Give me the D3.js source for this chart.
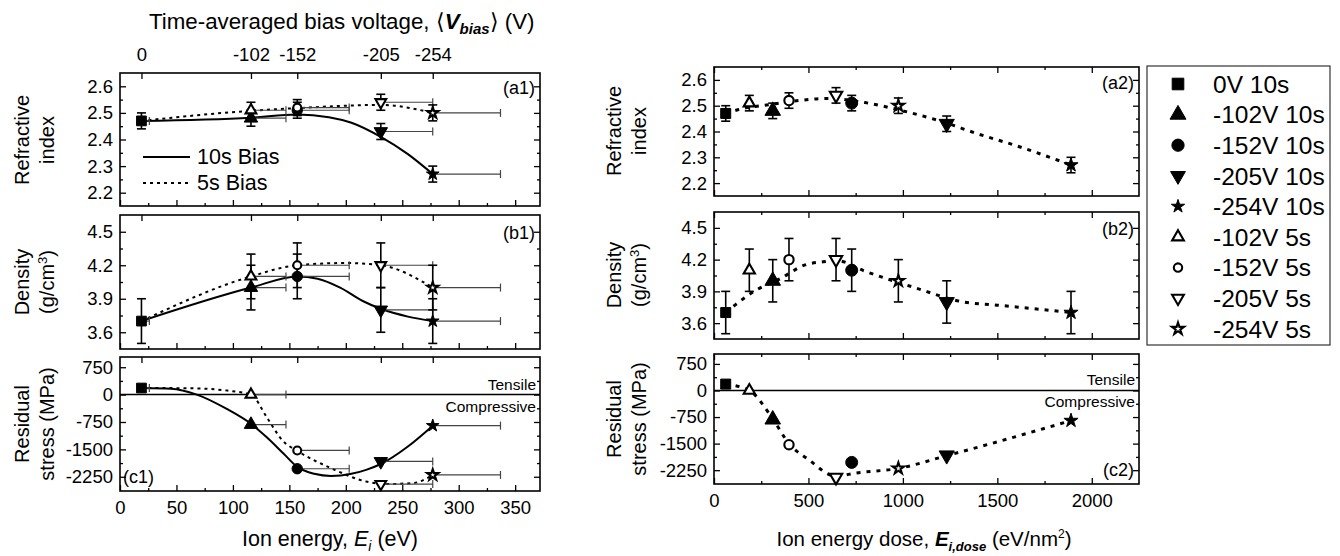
<!DOCTYPE html>
<html>
<head>
<meta charset="utf-8">
<script src="https://cdn.jsdelivr.net/npm/d3@7"></script>
<style>
  body { margin: 0; background: #fff; }
  svg { font-family: "Liberation Sans", Arial, sans-serif; }
</style>
</head>
<body>
<svg id="chart" width="1340" height="556"></svg>
<script>
// ---- data ----
const biasTickLabels = ['0', '-102', '-152', '-205', '-254'];
const ionEnergy10 = [19, 116, 157, 231, 277];
const ionEnergy5 = [116, 157, 231, 277];
const ionEnergyHi10 = [26, 147, 203, 277, 337];   // right end of horizontal error bar
const ionEnergyHi5 = [147, 203, 277, 337];
const dose10 = [62, 311, 729, 1232, 1890];
const dose5 = [187, 397, 646, 976];

const refIndex10 = [2.47, 2.48, 2.51, 2.43, 2.27];
const refIndex5 = [2.51, 2.52, 2.54, 2.50];
const refIndexErr10 = [0.03, 0.03, 0.03, 0.03, 0.03];
const refIndexErr5 = [0.03, 0.03, 0.03, 0.03];
const density10 = [3.7, 4.0, 4.1, 3.8, 3.7];
const density5 = [4.1, 4.2, 4.2, 4.0];
const densityErr10 = [0.2, 0.2, 0.2, 0.2, 0.2];
const densityErr5 = [0.2, 0.2, 0.2, 0.2];
const stress10 = [180, -820, -2030, -1830, -850];
const stress5 = [0, -1530, -2450, -2200];

const markers10 = ['square', 'triangle', 'circle', 'down', 'star'];
const markers5 = ['triangle', 'circle', 'down', 'star'];
const legendLabels = ['0V 10s', '-102V 10s', '-152V 10s', '-205V 10s', '-254V 10s',
                      '-102V 5s', '-152V 5s', '-205V 5s', '-254V 5s'];

// trend curves (left: vs ion energy, right: vs dose)
const refFit10E = [19, 116, 157, 185, 205, 231, 255, 277];
const refFit10V = [2.47, 2.482, 2.494, 2.484, 2.463, 2.41, 2.345, 2.27];
const refFit5E = [19, 116, 157, 231, 277];
const refFit5V = [2.47, 2.508, 2.518, 2.53, 2.50];
const densFit10E = [19, 116, 157, 175, 195, 215, 231, 255, 277];
const densFit10V = [3.70, 4.00, 4.10, 4.08, 4.00, 3.88, 3.81, 3.74, 3.70];
const densFit5E = [19, 116, 157, 200, 231, 277];
const densFit5V = [3.70, 4.10, 4.20, 4.22, 4.20, 4.00];
const stressFit10E = [19, 45, 68, 95, 116, 130, 145, 157, 172, 187, 205, 218, 231, 255, 277];
const stressFit10V = [180, 160, 0, -400, -800, -1170, -1620, -1980, -2170, -2230, -2170, -2060, -1900, -1420, -850];
const stressFit5E = [19, 60, 95, 116, 130, 144, 157, 188, 218, 235, 260, 277];
const stressFit5V = [180, 175, 110, 0, -620, -1260, -1540, -2030, -2380, -2450, -2420, -2200];

const refFitDoseE = [62, 130, 300, 450, 600, 800, 1000, 1200, 1400, 1600, 1890];
const refFitDoseV = [2.47, 2.485, 2.505, 2.52, 2.528, 2.512, 2.48, 2.44, 2.39, 2.345, 2.27];
const densFitDoseE = [62, 111, 221, 350, 482, 578, 650, 800, 1055, 1320, 1500, 1890];
const densFitDoseV = [3.70, 3.77, 3.91, 4.02, 4.15, 4.18, 4.19, 4.09, 3.94, 3.80, 3.77, 3.70];
const stressFitDoseE = [62, 187, 311, 397, 500, 646, 750, 976, 1232, 1500, 1890];
const stressFitDoseV = [180, 0, -800, -1500, -1950, -2420, -2330, -2200, -1840, -1450, -850];

// ticks
const energyTicks = [0, 50, 100, 150, 200, 250, 300, 350];
const energyMinor = [25, 75, 125, 175, 225, 275, 325];
const doseTicks = [0, 500, 1000, 1500, 2000];
const doseMinor = [250, 750, 1250, 1750];
const refTicks = [2.2, 2.3, 2.4, 2.5, 2.6];
const refMinor = [2.25, 2.35, 2.45, 2.55];
const densTicks = [3.6, 3.9, 4.2, 4.5];
const densMinor = [3.75, 4.05, 4.35];
const stressTicks = [-2250, -1500, -750, 0, 750];
const stressMinor = [-1875, -1125, -375, 375];

// ---- layout ----
const svg = d3.select('#chart');
const TICK_FONT = '18.5px';
const TITLE_FONT = '20px';

const xEnergy = d3.scaleLinear().domain([0, 372]).range([120, 540]);
const xDose = d3.scaleLinear().domain([0, 2250]).range([714, 1139]);

const rowsLeft = [[73, 206], [215, 349], [357, 491]];
const rowsRight = [[67, 196], [212, 339], [354, 484]];
const yDomains = [[2.15, 2.65], [3.45, 4.65], [-2640, 1030]];
const yTicks = [refTicks, densTicks, stressTicks];
const yMinor = [refMinor, densMinor, stressMinor];

// symbol areas for each place a marker is drawn
const markerSizes = {
    left:   { filled: { square: 95, triangle: 78, down: 78, circle: 85, star: 50 },
              open:   { triangle: 50, circle: 50, down: 50, star: 38 } },
    right:  { filled: { square: 100, triangle: 105, down: 100, circle: 113, star: 62 },
              open:   { triangle: 55, circle: 68, down: 66, star: 40 } },
    legend: { filled: { square: 135, triangle: 110, down: 95, circle: 118, star: 55 },
              open:   { triangle: 60, circle: 55, down: 60, star: 45 } }
};

function symbolPath(kind, size) {
    const type = { square: d3.symbolSquare, triangle: d3.symbolTriangle, down: d3.symbolTriangle,
                   circle: d3.symbolCircle, star: d3.symbolStar }[kind];
    return d3.symbol().type(type).size(size)();
}

function drawMarker(g, kind, open, cx, cy, where) {
    const size = markerSizes[where][open ? 'open' : 'filled'][kind];
    g.append('path')
        .attr('d', symbolPath(kind, size))
        .attr('transform', `translate(${cx},${cy})` + (kind === 'down' ? ' rotate(180)' : ''))
        .attr('fill', open ? '#fff' : '#000')
        .attr('stroke', '#000')
        .attr('stroke-linejoin', 'miter')
        .attr('stroke-width', open ? 2.1 : 1);
}

function styleAxis(sel) {
    sel.select('.domain').remove();
    sel.selectAll('line').attr('stroke', '#000').attr('stroke-width', 1.3);
    sel.selectAll('text').attr('fill', '#000').style('font-size', TICK_FONT);
}

function drawPanel(x, y, top, bottom, i, opts) {
    const g = svg.append('g');
    const [x0, x1] = x.range();

    // axes with inward ticks
    g.append('g').attr('transform', `translate(0,${bottom})`)
        .call(d3.axisBottom(x).tickValues(opts.xTicks).tickSize(-6).tickPadding(10)
            .tickFormat(opts.xLabels ? d3.format('d') : ''))
        .call(styleAxis);
    g.append('g').attr('transform', `translate(0,${bottom})`)
        .call(d3.axisBottom(x).tickValues(opts.xMinor).tickSize(-3).tickFormat(''))
        .call(styleAxis);
    g.append('g').attr('transform', `translate(0,${top})`)
        .call(d3.axisTop(x).tickValues(opts.topTicks).tickSize(-6).tickPadding(12)
            .tickFormat(opts.topLabels ? (d, k) => opts.topLabels[k] : ''))
        .call(styleAxis);
    if (opts.topMinor) {
        g.append('g').attr('transform', `translate(0,${top})`)
            .call(d3.axisTop(x).tickValues(opts.topMinor).tickSize(-3).tickFormat(''))
            .call(styleAxis);
    }
    g.append('g').attr('transform', `translate(${x0},0)`)
        .call(d3.axisLeft(y).tickValues(yTicks[i]).tickSize(-6).tickPadding(7).tickFormat(d => String(d)))
        .call(styleAxis);
    g.append('g').attr('transform', `translate(${x0},0)`)
        .call(d3.axisLeft(y).tickValues(yMinor[i]).tickSize(-3).tickFormat(''))
        .call(styleAxis);
    g.append('g').attr('transform', `translate(${x1},0)`)
        .call(d3.axisRight(y).tickValues(yTicks[i]).tickSize(-6).tickFormat(''))
        .call(styleAxis);
    g.append('g').attr('transform', `translate(${x1},0)`)
        .call(d3.axisRight(y).tickValues(yMinor[i]).tickSize(-3).tickFormat(''))
        .call(styleAxis);

    g.append('rect')
        .attr('x', x0).attr('y', top).attr('width', x1 - x0).attr('height', bottom - top)
        .attr('fill', 'none').attr('stroke', '#000').attr('stroke-width', 1.6);

    return g;
}

function drawCurve(g, x, y, xs, ys, dashed, width) {
    const line = d3.line().x(d => x(d[0])).y(d => y(d[1])).curve(d3.curveMonotoneX);
    g.append('path')
        .datum(xs.map((v, k) => [v, ys[k]]))
        .attr('d', line)
        .attr('fill', 'none')
        .attr('stroke', '#000')
        .attr('stroke-width', width)
        .attr('stroke-dasharray', dashed || null);
}

function drawHBars(g, x, y, xs, his, vals) {
    xs.forEach((v, k) => {
        const yy = y(vals[k]);
        g.append('line').attr('x1', x(v)).attr('x2', x(his[k])).attr('y1', yy).attr('y2', yy)
            .attr('stroke', '#444').attr('stroke-width', 1.2);
        g.append('line').attr('x1', x(his[k])).attr('x2', x(his[k])).attr('y1', yy - 4).attr('y2', yy + 4)
            .attr('stroke', '#444').attr('stroke-width', 1.2);
    });
}

function drawVBars(g, x, y, xs, vals, errs) {
    xs.forEach((v, k) => {
        const xx = x(v);
        const lo = y(vals[k] - errs[k]), hi = y(vals[k] + errs[k]);
        g.append('line').attr('x1', xx).attr('x2', xx).attr('y1', lo).attr('y2', hi)
            .attr('stroke', '#000').attr('stroke-width', 1.6);
        [lo, hi].forEach(yy => g.append('line').attr('x1', xx - 4.5).attr('x2', xx + 4.5)
            .attr('y1', yy).attr('y2', yy).attr('stroke', '#000').attr('stroke-width', 1.6));
    });
}

function drawMarkers(g, x, y, xs, vals, kinds, open, where) {
    xs.forEach((v, k) => drawMarker(g, kinds[k], open, x(v), y(vals[k]), where));
}

function yTitle(cx, cy, lines) {
    lines.forEach((ln, k) => {
        const t = svg.append('text')
            .attr('transform', `translate(${cx + k * 25},${cy}) rotate(-90)`)
            .attr('text-anchor', 'middle').attr('dy', '0.35em')
            .style('font-size', TITLE_FONT);
        ln.forEach(part => {
            const s = t.append('tspan').text(part.t);
            if (part.sup) s.attr('dy', -7).style('font-size', '13px');
            if (part.after) s.attr('dy', 7);
        });
    });
}

function panelLabel(x, yb, text, anchor) {
    svg.append('text').attr('x', x).attr('y', yb).attr('text-anchor', anchor)
        .style('font-size', '18px').text(text);
}

function stressLabels(x, y) {
    const [, x1] = x.range();
    const z = y(0);
    svg.append('text').attr('x', x1 - 4).attr('y', z - 5).attr('text-anchor', 'end')
        .style('font-size', '15.5px').text('Tensile');
    svg.append('text').attr('x', x1 - 4).attr('y', z + 17).attr('text-anchor', 'end')
        .style('font-size', '15.5px').text('Compressive');
}

// ---- left column: vs ion energy ----
const leftSeries = [
    { v10: refIndex10, v5: refIndex5, e10: refIndexErr10, e5: refIndexErr5,
      f10: [refFit10E, refFit10V], f5: [refFit5E, refFit5V] },
    { v10: density10, v5: density5, e10: densityErr10, e5: densityErr5,
      f10: [densFit10E, densFit10V], f5: [densFit5E, densFit5V] },
    { v10: stress10, v5: stress5, e10: null, e5: null,
      f10: [stressFit10E, stressFit10V], f5: [stressFit5E, stressFit5V] }
];

leftSeries.forEach((s, i) => {
    const [top, bottom] = rowsLeft[i];
    const y = d3.scaleLinear().domain(yDomains[i]).range([bottom, top]);
    const g = drawPanel(xEnergy, y, top, bottom, i, {
        xTicks: energyTicks, xMinor: energyMinor, xLabels: i === 2,
        topTicks: ionEnergy10, topLabels: i === 0 ? biasTickLabels : null
    });
    if (i === 2) {
        g.append('line').attr('x1', xEnergy.range()[0]).attr('x2', xEnergy.range()[1])
            .attr('y1', y(0)).attr('y2', y(0)).attr('stroke', '#000').attr('stroke-width', 1.5);
    }
    drawCurve(g, xEnergy, y, s.f5[0], s.f5[1], '3,4', 2);
    drawCurve(g, xEnergy, y, s.f10[0], s.f10[1], null, 2);
    drawHBars(g, xEnergy, y, ionEnergy10, ionEnergyHi10, s.v10);
    drawHBars(g, xEnergy, y, ionEnergy5, ionEnergyHi5, s.v5);
    if (s.e10) {
        drawVBars(g, xEnergy, y, ionEnergy10, s.v10, s.e10);
        drawVBars(g, xEnergy, y, ionEnergy5, s.v5, s.e5);
    }
    drawMarkers(g, xEnergy, y, ionEnergy10, s.v10, markers10, false, 'left');
    drawMarkers(g, xEnergy, y, ionEnergy5, s.v5, markers5, true, 'left');
    if (i === 2) stressLabels(xEnergy, y);
});

// ---- right column: vs ion energy dose ----
const rightSeries = [
    { v10: refIndex10, v5: refIndex5, e10: refIndexErr10, e5: refIndexErr5, f: [refFitDoseE, refFitDoseV] },
    { v10: density10, v5: density5, e10: densityErr10, e5: densityErr5, f: [densFitDoseE, densFitDoseV] },
    { v10: stress10, v5: stress5, e10: null, e5: null, f: [stressFitDoseE, stressFitDoseV] }
];

rightSeries.forEach((s, i) => {
    const [top, bottom] = rowsRight[i];
    const y = d3.scaleLinear().domain(yDomains[i]).range([bottom, top]);
    const g = drawPanel(xDose, y, top, bottom, i, {
        xTicks: doseTicks, xMinor: doseMinor, xLabels: i === 2,
        topTicks: doseTicks, topMinor: doseMinor, topLabels: null
    });
    if (i === 2) {
        g.append('line').attr('x1', xDose.range()[0]).attr('x2', xDose.range()[1])
            .attr('y1', y(0)).attr('y2', y(0)).attr('stroke', '#000').attr('stroke-width', 1.5);
    }
    drawCurve(g, xDose, y, s.f[0], s.f[1], '4,6', 3);
    if (s.e10) {
        drawVBars(g, xDose, y, dose10, s.v10, s.e10);
        drawVBars(g, xDose, y, dose5, s.v5, s.e5);
    }
    drawMarkers(g, xDose, y, dose10, s.v10, markers10, false, 'right');
    drawMarkers(g, xDose, y, dose5, s.v5, markers5, true, 'right');
    if (i === 2) stressLabels(xDose, y);
});

// ---- panel labels ----
panelLabel(535, 94, '(a1)', 'end');
panelLabel(535, 239, '(b1)', 'end');
panelLabel(123, 483, '(c1)', 'start');
panelLabel(1134, 89, '(a2)', 'end');
panelLabel(1134, 235, '(b2)', 'end');
panelLabel(1134, 476, '(c2)', 'end');

// ---- in-plot legend (a1) ----
svg.append('line').attr('x1', 143).attr('x2', 190).attr('y1', 157).attr('y2', 157)
    .attr('stroke', '#000').attr('stroke-width', 2);
svg.append('text').attr('x', 197).attr('y', 164).style('font-size', '21.5px').text('10s Bias');
svg.append('line').attr('x1', 143).attr('x2', 190).attr('y1', 183).attr('y2', 183)
    .attr('stroke', '#000').attr('stroke-width', 2).attr('stroke-dasharray', '3,4');
svg.append('text').attr('x', 197).attr('y', 190).style('font-size', '21.5px').text('5s Bias');

// ---- right legend ----
svg.append('rect').attr('x', 1147).attr('y', 66).attr('width', 183).attr('height', 279)
    .attr('fill', '#fff').attr('stroke', '#333').attr('stroke-width', 1.2);
const legendKinds = markers10.concat(markers5);
legendLabels.forEach((lab, k) => {
    const yy = 84 + k * 30.6;
    const lg = svg.append('g');
    drawMarker(lg, legendKinds[k], k >= 5, 1178, yy, 'legend');
    svg.append('text').attr('x', 1213).attr('y', yy).attr('dy', '0.36em')
        .style('font-size', '24.5px').text(lab);
});

// ---- axis titles ----
yTitle(22, 140, [[{ t: 'Refractive' }], [{ t: 'index' }]]);
yTitle(22, 282, [[{ t: 'Density' }], [{ t: '(g/cm' }, { t: '3', sup: true }, { t: ')', after: true }]]);
yTitle(22, 424, [[{ t: 'Residual' }], [{ t: 'stress (MPa)' }]]);
yTitle(614, 131, [[{ t: 'Refractive' }], [{ t: 'index' }]]);
yTitle(614, 275, [[{ t: 'Density' }], [{ t: '(g/cm' }, { t: '3', sup: true }, { t: ')', after: true }]]);
yTitle(614, 419, [[{ t: 'Residual' }], [{ t: 'stress (MPa)' }]]);

const topTitle = svg.append('text').attr('x', 149).attr('y', 29).style('font-size', '22.3px');
topTitle.append('tspan').text('Time-averaged bias voltage, \u27E8');
topTitle.append('tspan').attr('font-weight', 'bold').attr('font-style', 'italic').text('V');
topTitle.append('tspan').attr('font-weight', 'bold').attr('font-style', 'italic')
    .style('font-size', '15px').attr('dy', 5).text('bias');
topTitle.append('tspan').attr('dy', -5).text('\u27E9 (V)');

const bl = svg.append('text').attr('x', 330).attr('y', 546).attr('text-anchor', 'middle')
    .style('font-size', '21.5px');
bl.append('tspan').text('Ion energy, ');
bl.append('tspan').attr('font-style', 'italic').text('E');
bl.append('tspan').attr('font-style', 'italic').style('font-size', '14px').attr('dy', 5).text('i');
bl.append('tspan').attr('dy', -5).text(' (eV)');

const br = svg.append('text').attr('x', 924).attr('y', 546).attr('text-anchor', 'middle')
    .style('font-size', '20.5px');
br.append('tspan').text('Ion energy dose, ');
br.append('tspan').attr('font-weight', 'bold').attr('font-style', 'italic').text('E');
br.append('tspan').attr('font-weight', 'bold').attr('font-style', 'italic')
    .style('font-size', '13px').attr('dy', 5).text('i,dose');
br.append('tspan').attr('dy', -5).text(' (eV/nm');
br.append('tspan').style('font-size', '12px').attr('dy', -8).text('2');
br.append('tspan').attr('dy', 8).text(')');
</script>
</body>
</html>
